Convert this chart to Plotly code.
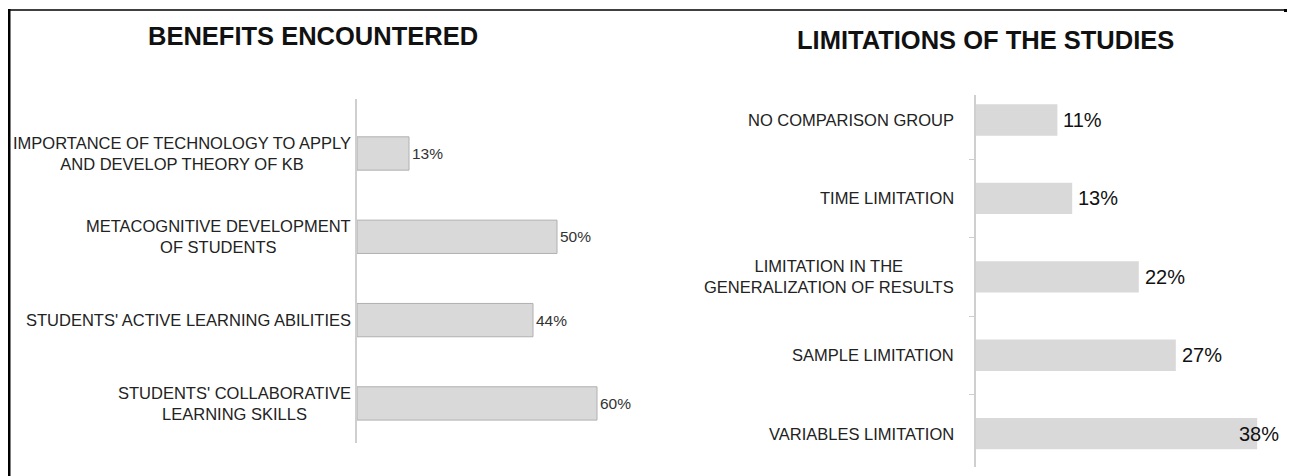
import plotly.graph_objects as go

# canvas size, and the page margin the browser puts round the plot div
W, H = 1295, 476
OX, OY = 8, 8

# data
benefit_labels = [
    "IMPORTANCE OF TECHNOLOGY TO APPLY<br>AND DEVELOP THEORY OF KB",
    "METACOGNITIVE DEVELOPMENT<br>OF STUDENTS",
    "STUDENTS' ACTIVE LEARNING ABILITIES",
    "STUDENTS' COLLABORATIVE<br>LEARNING SKILLS",
]
benefit_values = [13, 50, 44, 60]

limit_labels = [
    "NO COMPARISON GROUP",
    "TIME LIMITATION",
    "LIMITATION IN THE<br>GENERALIZATION OF RESULTS",
    "SAMPLE LIMITATION",
    "VARIABLES LIMITATION",
]
limit_values = [11, 13, 22, 27, 38]

FONT = "Liberation Sans, Arial, sans-serif"
BAR_FILL = "#d9d9d9"
AXIS_GREY = "#cfcfcf"


def px_x(x):
    # window pixel -> paper fraction
    return (x - OX) / W


def px_y(y):
    return 1 - (y - OY) / H


fig = go.Figure()

# Benefits bars
fig.add_trace(go.Bar(
    x=benefit_values, y=benefit_labels, orientation="h",
    width=0.4,
    marker=dict(color=BAR_FILL, line=dict(color="#b0b0b0", width=1)),
    xaxis="x", yaxis="y", hoverinfo="skip",
))

# Limitations bars
fig.add_trace(go.Bar(
    x=limit_values, y=limit_labels, orientation="h",
    width=0.4,
    marker=dict(color=BAR_FILL, line=dict(width=0)),
    xaxis="x2", yaxis="y2", hoverinfo="skip",
))

annotations = []

# category labels (centred multi-line blocks, right edge near the axis)
for lab in benefit_labels:
    annotations.append(dict(
        text=lab, xref="paper", x=px_x(353), xanchor="right",
        yref="y", y=lab, yanchor="middle", align="center", showarrow=False,
        font=dict(family=FONT, size=16.5, color="#222222"),
    ))
for lab in limit_labels:
    annotations.append(dict(
        text=lab, xref="paper", x=px_x(956), xanchor="right",
        yref="y2", y=lab, yanchor="middle", align="center", showarrow=False,
        font=dict(family=FONT, size=16.5, color="#222222"),
    ))

# value labels
for lab, v in zip(benefit_labels, benefit_values):
    annotations.append(dict(
        text=f"{v}%", xref="x", x=v, xanchor="left", xshift=1,
        yref="y", y=lab, yanchor="middle", showarrow=False,
        font=dict(family=FONT, size=15.5, color="#333333"),
    ))
lim_max = max(limit_values)
for lab, v in zip(limit_labels, limit_values):
    # the largest bar reaches the page edge, its label sits over the bar end
    at_edge = v == lim_max
    annotations.append(dict(
        text=f"{v}%", xref="x2", x=v,
        xanchor="center" if at_edge else "left", xshift=2 if at_edge else 4,
        yref="y2", y=lab, yanchor="middle", showarrow=False,
        font=dict(family=FONT, size=20, color="#111111"),
    ))

# titles
annotations.append(dict(
    text="BENEFITS ENCOUNTERED", xref="paper", yref="paper",
    x=px_x(313), y=px_y(36), xanchor="center", yanchor="middle", showarrow=False,
    font=dict(family=FONT, size=25.5, color="#111111", weight="bold"),
))
annotations.append(dict(
    text="LIMITATIONS OF THE STUDIES", xref="paper", yref="paper",
    x=px_x(985), y=px_y(40), xanchor="center", yanchor="middle", showarrow=False,
    font=dict(family=FONT, size=25.5, color="#111111", weight="bold"),
))

# frame lines
shapes = [
    dict(type="line", xref="paper", yref="paper",
         x0=px_x(9), x1=px_x(9), y0=-0.05, y1=px_y(9),
         line=dict(color="black", width=3)),
    dict(type="line", xref="paper", yref="paper",
         x0=px_x(8), x1=px_x(1284), y0=px_y(10), y1=px_y(10),
         line=dict(color="black", width=1.5)),
    dict(type="line", xref="paper", yref="paper",
         x0=px_x(1284), x1=px_x(1296), y0=px_y(10.5), y1=px_y(10.5),
         line=dict(color="black", width=3)),
]

# horizontal scales: 4 px per % (left), 7.4 px per % (right)
left_axis_px, left_end_px = 357, 650
right_axis_px, right_end_px = 976, W + OX

fig.update_layout(
    width=W, height=H,
    margin=dict(l=0, r=0, t=0, b=0),
    paper_bgcolor="white", plot_bgcolor="white",
    showlegend=False,
    font=dict(family=FONT),
    annotations=annotations,
    shapes=shapes,
    xaxis=dict(domain=[px_x(left_axis_px), px_x(left_end_px)],
               range=[0, (left_end_px - left_axis_px) / 4.0],
               visible=False, fixedrange=True),
    yaxis=dict(domain=[px_y(443), px_y(99)], type="category",
               range=[3.475, -0.654], showline=True, linecolor=AXIS_GREY,
               linewidth=1.5, showticklabels=False, ticks="", showgrid=False,
               zeroline=False, anchor="x"),
    xaxis2=dict(domain=[px_x(right_axis_px), 1.0],
                range=[0, (right_end_px - right_axis_px) / 7.4],
                visible=False, fixedrange=True, anchor="y2"),
    yaxis2=dict(domain=[px_y(467), px_y(95)], type="category",
                range=[4.426, -0.319], showline=True, linecolor=AXIS_GREY,
                linewidth=1.5, showticklabels=False, ticks="outside",
                ticklen=5, tickcolor=AXIS_GREY, tickwidth=1,
                tickson="boundaries", showgrid=False, zeroline=False,
                anchor="x2"),
)

fig.write_html("out.html")
